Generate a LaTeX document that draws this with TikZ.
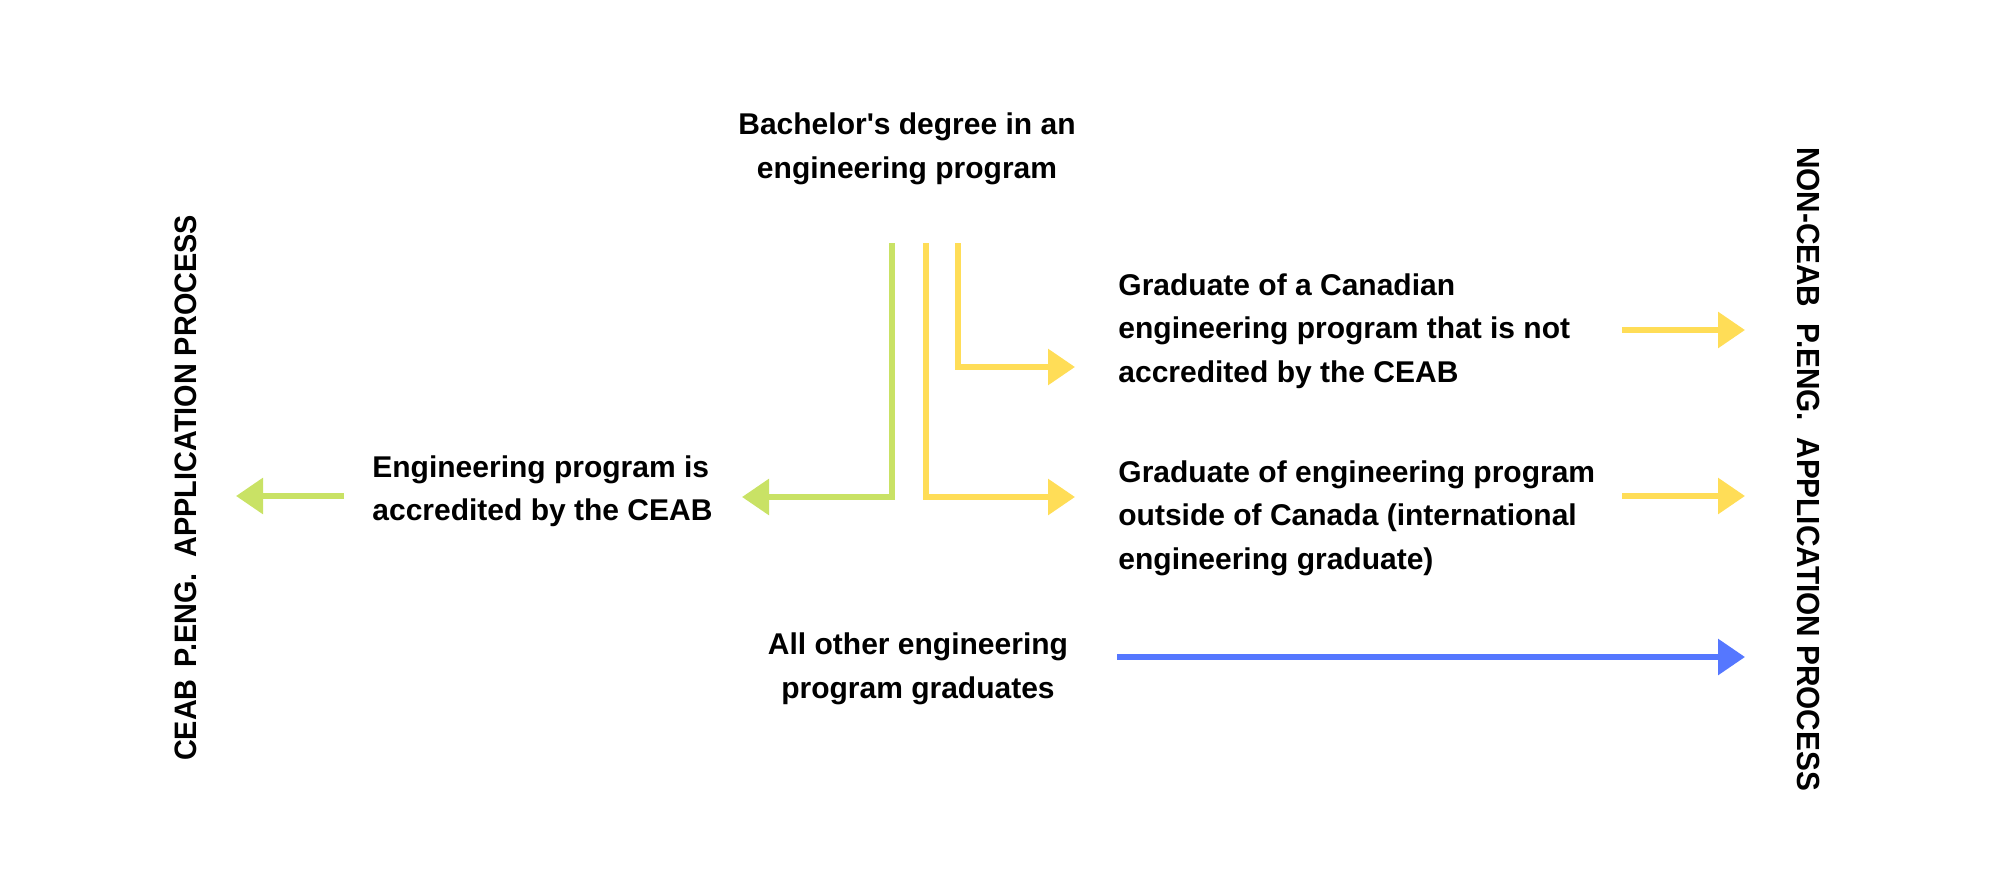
\documentclass[tikz,border=0pt]{standalone}
\usepackage{fontspec}
\setmainfont{Liberation Sans}[Ligatures=TeXOff]
\newfontfamily\sidefont{Liberation Sans}[FakeStretch=0.93]
\usepackage{tikz}
\usetikzlibrary{calc,arrows.meta}
\definecolor{leaf}{HTML}{C9E265}
\definecolor{sun}{HTML}{FFDD57}
\definecolor{iris}{HTML}{5577FF}
\tikzset{
  flow/.style={-{Triangle[length=13.5pt,width=17.5pt]}, line width=3pt},
  accepted/.style={flow, draw=leaf},
  review/.style={flow, draw=sun},
  other/.style={flow, draw=iris},
  lab/.style={font=\fontsize{15pt}{21.75pt}\selectfont\bfseries, inner sep=0pt},
  side/.style={font=\sidefont\fontsize{#1}{#1}\selectfont\bfseries, inner sep=0pt}
}

\begin{document}
\begin{tikzpicture}[x=0.5pt,y=-0.5pt]
  \useasboundingbox (0,0) rectangle (2000,893);

  \node[lab, align=center] (bach) at (907,149) {Bachelor's degree in an\\engineering program};
  \node[lab, align=left, anchor=west] (accr) at (372,491) {Engineering program is\\accredited by the CEAB};
  \node[lab, align=left, anchor=west] (cdn) at (1118,331) {Graduate of a Canadian\\engineering program that is not\\accredited by the CEAB};
  \node[lab, align=left, anchor=west] (intl) at (1118,518) {Graduate of engineering program\\outside of Canada (international\\engineering graduate)};
  \node[lab, align=center] (other) at (918,669) {All other engineering\\program graduates};

  \node[side=15.5pt, rotate=90] (ceab) at (186,488) {CEAB\hspace{6pt}P.ENG.\ \ APPLICATION PROCESS};
  \node[side=16pt, rotate=-90] (nonceab) at (1808,469) {NON-CEAB\ \ P.ENG.\ \ APPLICATION PROCESS};

  % branches leaving the degree
  \coordinate (acctop) at ($(bach.center)+(-15,94)$);
  \coordinate (intltop) at ($(bach.center)+(19,94)$);
  \coordinate (cdntop) at ($(bach.center)+(51,94)$);
  \draw[accepted] (acctop) |- ($(accr.west)+(370,6)$);
  \draw[review] (intltop) |- ($(intl.west)+(-43,-21)$);
  \draw[review] (cdntop) |- ($(cdn.west)+(-43,36)$);

  % on to the two processes
  \coordinate (accout) at ($(accr.west)+(-28,5)$);
  \coordinate (cdnout) at ($(cdn.west)+(504,-1)$);
  \coordinate (intlout) at ($(intl.west)+(504,-22)$);
  \coordinate (otherout) at ($(other.center)+(199,-12)$);
  \draw[accepted] (accout) -- ($(ceab.center |- accout)+(50,0)$);
  \draw[review] (cdnout) -- ($(nonceab.center |- cdnout)+(-63,0)$);
  \draw[review] (intlout) -- ($(nonceab.center |- intlout)+(-63,0)$);
  \draw[other] (otherout) -- ($(nonceab.center |- otherout)+(-63,0)$);
\end{tikzpicture}
\end{document}
